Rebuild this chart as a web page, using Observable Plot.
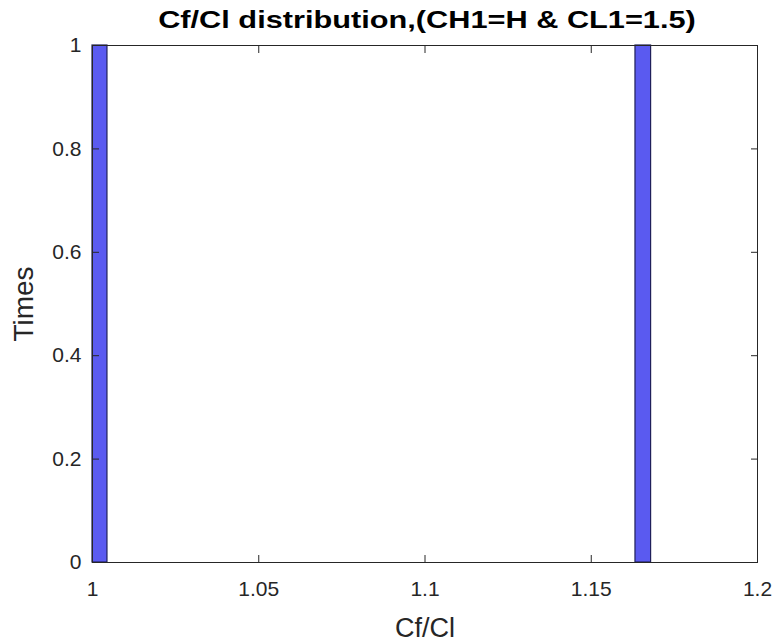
<!DOCTYPE html>
<html>
<head>
<meta charset="utf-8">
<script src="https://cdn.jsdelivr.net/npm/d3@7"></script>
<script src="https://cdn.jsdelivr.net/npm/@observablehq/plot@0.6"></script>
<style>
  html, body { margin: 0; padding: 0; background: #fff; }
  body { position: relative; width: 780px; height: 644px; overflow: hidden; }
  #title { position: absolute; top: 6px; left: 127px; width: 600px; height: 36px; line-height: 36px;
           text-align: center; font: bold 24px "Liberation Sans", Arial, sans-serif; color: #000; white-space: nowrap;
           transform: scaleX(1.28); transform-origin: center; }
  #chart { position: absolute; top: 40px; left: 0; }
</style>
</head>
<body>
<div id="title">Cf/Cl distribution,(CH1=H &amp; CL1=1.5)</div>
<div id="chart"></div>
<script>
const binStart = [1.0, 1.1633];
const binEnd = [1.0045, 1.1680];
const counts = [1, 1];
const xTicks = [1, 1.05, 1.1, 1.15, 1.2];
const yTicks = [0, 0.2, 0.4, 0.6, 0.8, 1];
const xLabel = "Cf/Cl";
const yLabel = "Times";

const bins = binStart.map((s, i) => ({x1: s, x2: binEnd[i], y: counts[i]}));
const fmt = d => String(+d.toFixed(2));
const none = () => "";

const chart = Plot.plot({
  width: 780,
  height: 604,
  marginLeft: 92,
  marginRight: 23,
  marginTop: 5,
  marginBottom: 82,
  style: {fontFamily: "'Liberation Sans', Arial, sans-serif", fontSize: "21px", color: "#262626", background: "#fff", overflow: "visible"},
  x: {domain: [1, 1.2]},
  y: {domain: [0, 1]},
  marks: [
    Plot.rectY(bins, {x1: "x1", x2: "x2", y: "y", fill: "#5a5af0", stroke: "#20205a", strokeWidth: 1.2}),
    Plot.frame({stroke: "#262626", strokeWidth: 1}),
    Plot.axisX({ticks: xTicks, tickFormat: fmt, tickSize: 0, tickPadding: 19, anchor: "bottom", label: null}),
    Plot.axisX({ticks: xTicks, tickFormat: none, tickSize: -7, anchor: "bottom", label: null}),
    Plot.axisX({ticks: xTicks, tickFormat: none, tickSize: -7, anchor: "top", label: null}),
    Plot.axisY({ticks: yTicks, tickFormat: fmt, tickSize: 0, tickPadding: 11, anchor: "left", label: null}),
    Plot.axisY({ticks: yTicks, tickFormat: none, tickSize: -7, anchor: "left", label: null}),
    Plot.axisY({ticks: yTicks, tickFormat: none, tickSize: -7, anchor: "right", label: null}),
    Plot.text([xLabel], {frameAnchor: "bottom", dy: 74, fontSize: 27, fill: "#262626"}),
    Plot.text([yLabel], {frameAnchor: "left", textAnchor: "middle", dx: -68, rotate: -90, fontSize: 28, fill: "#262626"})
  ]
});
document.getElementById("chart").appendChild(chart);
</script>
</body>
</html>
